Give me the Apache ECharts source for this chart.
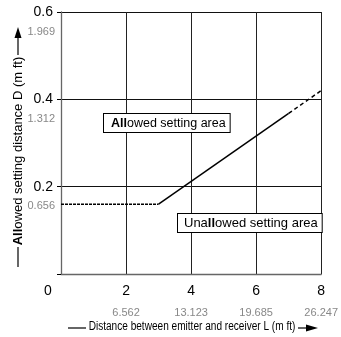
<!DOCTYPE html>
<html>
<head>
<meta charset="utf-8">
<script src="https://cdn.jsdelivr.net/npm/echarts@6/dist/echarts.min.js"></script>
<style>
  html, body { margin: 0; padding: 0; background: #fff; }
  #chart { width: 341px; height: 337px; }
</style>
</head>
<body>
<div id="chart"></div>
<script>
// axis ticks (metres) and their feet equivalents
var xTicks = [0, 2, 4, 6, 8];
var xFeet = ['', '6.562', '13.123', '19.685', '26.247'];
var yTicks = [0.2, 0.4, 0.6];
var yFeet = ['0.656', '1.312', '1.969'];

// boundary line, split in three pieces
var flatPart = [[0, 0.16], [3, 0.16]];
var risePart = [[3, 0.16], [7, 0.368]];
var extPart = [[7, 0.368], [8, 0.42]];

var font = "'Liberation Sans', Arial, sans-serif";

function feetOf(ticks, feet, v) {
  for (var i = 0; i < ticks.length; i++) {
    if (Math.abs(ticks[i] - v) < 1e-6) return feet[i];
  }
  return '';
}

var chart = echarts.init(document.getElementById('chart'));
var option = {
  animation: false,
  grid: { left: 61, right: 15, top: 12, bottom: 63, containLabel: false },
  xAxis: [
    {
      type: 'value', min: 0, max: 8, interval: 2, position: 'bottom',
      axisLine: { show: true, lineStyle: { color: '#666', width: 1.3 } },
      axisTick: { show: false },
      splitLine: { show: true, lineStyle: { color: '#222', width: 1 } },
      axisLabel: {
        margin: 10, color: '#000', fontSize: 14, fontFamily: font,
        formatter: function (v) { return v === 0 ? '{z|0}' : String(v); },
        rich: { z: { fontSize: 14, fontFamily: font, color: '#000', padding: [0, 26, 0, 0] } }
      }
    },
    {
      type: 'value', min: 0, max: 8, interval: 2, position: 'bottom',
      axisLine: { show: false }, axisTick: { show: false }, splitLine: { show: false },
      axisLabel: {
        margin: 33, color: '#888', fontSize: 11, fontFamily: font,
        formatter: function (v) { return feetOf(xTicks, xFeet, v); }
      }
    }
  ],
  yAxis: [
    {
      type: 'value', min: 0, max: 0.6, interval: 0.2, position: 'left',
      axisLine: { show: true, lineStyle: { color: '#666', width: 1.3 } },
      axisTick: { show: true, length: 4, lineStyle: { color: '#000' } },
      splitLine: { show: true, lineStyle: { color: '#111', width: 1 } },
      axisLabel: {
        margin: 8, color: '#000', fontSize: 14, fontFamily: font,
        formatter: function (v) { return v === 0 ? '' : v.toFixed(1); }
      }
    },
    {
      type: 'value', min: 0, max: 0.6, interval: 0.2, position: 'left',
      axisLine: { show: false }, axisTick: { show: false }, splitLine: { show: false },
      axisLabel: {
        margin: 6, color: '#888', fontSize: 11, fontFamily: font,
        verticalAlign: 'top', padding: [14, 0, 0, 0],
        formatter: function (v) { return feetOf(yTicks, yFeet, v); }
      }
    }
  ],
  series: [
    {
      type: 'line', data: flatPart, symbol: 'none', silent: true,
      lineStyle: { color: '#000', width: 1.5, type: [3, 1] }
    },
    {
      type: 'line', data: risePart, symbol: 'none', silent: true,
      lineStyle: { color: '#000', width: 1.5 }
    },
    {
      type: 'line', data: extPart, symbol: 'none', silent: true,
      lineStyle: { color: '#000', width: 1.5, type: [4, 3] }
    }
  ],
  graphic: [
    // area labels
    {
      type: 'text', left: 103, top: 113, z: 100,
      style: {
        text: '{b|All}owed setting area', fill: '#000',
        font: '12.5px ' + font,
        backgroundColor: '#fff', borderColor: '#000', borderWidth: 1,
        padding: [3, 4, 2, 7],
        rich: { b: { fontWeight: 'bold', fontSize: 12.5, fontFamily: font } }
      }
    },
    {
      type: 'text', left: 177, top: 213, z: 100,
      style: {
        text: 'Una{b|ll}owed setting area', fill: '#000',
        font: '13px ' + font,
        backgroundColor: '#fff', borderColor: '#000', borderWidth: 1,
        padding: [3, 4, 2, 6],
        rich: { b: { fontWeight: 'bold', fontSize: 13, fontFamily: font } }
      }
    },
    // y axis title
    {
      type: 'text', x: 18, y: 151, rotation: Math.PI / 2,
      style: {
        text: '{b|All}owed setting distance D (m {g|ft})', fill: '#000',
        font: '13px ' + font, align: 'center', verticalAlign: 'middle',
        rich: {
          b: { fontWeight: 'bold', fontSize: 13, fontFamily: font },
          g: { fontSize: 13, fontFamily: font, color: '#999' }
        }
      }
    },
    { type: 'line', shape: { x1: 18, y1: 247, x2: 18, y2: 267 }, style: { stroke: '#000', lineWidth: 1.2 } },
    { type: 'line', shape: { x1: 18, y1: 36, x2: 18, y2: 55 }, style: { stroke: '#000', lineWidth: 1.2 } },
    { type: 'polygon', shape: { points: [[18, 27], [14.5, 38], [21.5, 38]] }, style: { fill: '#000' } },
    // x axis title (condensed)
    {
      type: 'text', x: 192, y: 327, scaleX: 0.84,
      style: {
        text: 'Distance between emitter and receiver L (m {g|ft})', fill: '#000',
        font: '12px ' + font, align: 'center', verticalAlign: 'middle',
        rich: { g: { fontSize: 12, fontFamily: font, color: '#999' } }
      }
    },
    { type: 'line', shape: { x1: 68, y1: 328, x2: 86, y2: 328 }, style: { stroke: '#000', lineWidth: 1.2 } },
    { type: 'line', shape: { x1: 298, y1: 328, x2: 308, y2: 328 }, style: { stroke: '#000', lineWidth: 1.2 } },
    { type: 'polygon', shape: { points: [[318, 328], [306, 324.5], [306, 331.5]] }, style: { fill: '#000' } }
  ]
};
chart.setOption(option);
</script>
</body>
</html>
